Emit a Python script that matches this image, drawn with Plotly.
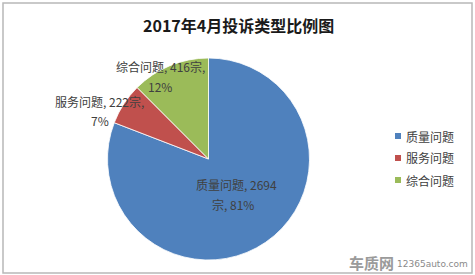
import plotly.graph_objects as go

categories = ["质量问题", "服务问题", "综合问题"]
counts = [2694, 222, 416]
percents = ["81%", "7%", "12%"]
colors = ["#4F81BD", "#C0504D", "#9BBB59"]
title_text = "2017年4月投诉类型比例图"

W, H = 475, 275
FONT = "Noto Sans CJK SC, Microsoft YaHei, sans-serif"

def px(x):
    return x / W

def py(y):
    return (H - y) / H

cx, cy, half = 208.5, 159, 101

fig = go.Figure()
fig.add_trace(go.Pie(
    labels=categories,
    values=counts,
    sort=False,
    direction="clockwise",
    rotation=0,
    marker=dict(colors=colors, line=dict(color="white", width=0.8)),
    textinfo="none",
    hoverinfo="label+value+percent",
    showlegend=False,
    domain=dict(x=[px(cx - half), px(cx + half)], y=[py(cy + half), py(cy - half)]),
))

label_font = dict(family=FONT, size=12, color="#404040")
label_lines = [
    (f"{categories[0]}, {counts[0]}", f"宗, {percents[0]}", 236, 233, 184, 204),
    (f"{categories[1]}, {counts[1]}宗,", f"{percents[1]}", 99, 100, 101, 120),
    (f"{categories[2]}, {counts[2]}宗,", f"{percents[2]}", 160, 160, 66, 86),
]
annotations = []
for l1, l2, x1, x2, y1, y2 in label_lines:
    annotations.append(dict(text=l1, x=px(x1), y=py(y1), xref="paper", yref="paper",
                            showarrow=False, font=label_font, xanchor="center", yanchor="middle"))
    annotations.append(dict(text=l2, x=px(x2), y=py(y2), xref="paper", yref="paper",
                            showarrow=False, font=label_font, xanchor="center", yanchor="middle"))

annotations.append(dict(text="<b>" + title_text + "</b>", x=px(238), y=py(25), xref="paper", yref="paper",
                        showarrow=False, font=dict(family=FONT, size=16, color="#1a1a1a"),
                        xanchor="center", yanchor="middle"))

# custom legend
shapes = []
legend_rows = [136, 158, 180]
for name, col, ry in zip(categories, colors, legend_rows):
    shapes.append(dict(type="rect", xref="paper", yref="paper",
                       x0=px(395), x1=px(401), y0=py(ry + 3), y1=py(ry - 3),
                       fillcolor=col, line=dict(width=0)))
    annotations.append(dict(text=name, x=px(404), y=py(ry), xref="paper", yref="paper",
                            showarrow=False, font=label_font, xanchor="left", yanchor="middle"))

# watermark
annotations.append(dict(text="<b>车质网</b>", x=px(396), y=py(262), xref="paper", yref="paper",
                        showarrow=False, font=dict(family=FONT, size=15, color="#9a9a9a"),
                        xanchor="right", yanchor="middle"))
annotations.append(dict(text="12365auto.com", x=px(470), y=py(264), xref="paper", yref="paper",
                        showarrow=False, font=dict(family="DejaVu Sans, sans-serif", size=9, color="#8a8a8a"),
                        xanchor="right", yanchor="middle"))

shapes.append(dict(type="rect", xref="paper", yref="paper",
                   x0=px(3), x1=px(472), y0=py(273), y1=py(3),
                   line=dict(color="#b8b8b8", width=1.5)))

fig.update_layout(
    width=W, height=H,
    margin=dict(l=0, r=0, t=0, b=0),
    paper_bgcolor="white",
    plot_bgcolor="white",
    showlegend=False,
    annotations=annotations,
    shapes=shapes,
)

fig.write_html("out.html")
